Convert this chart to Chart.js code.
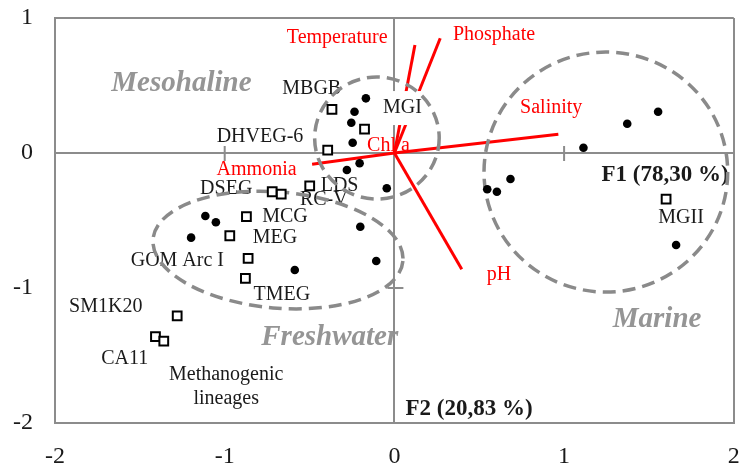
<!DOCTYPE html>
<html>
<head>
<meta charset="utf-8">
<script src="https://cdn.jsdelivr.net/npm/chart.js@4.4.1/dist/chart.umd.min.js"></script>
<style>
  html, body { margin: 0; padding: 0; background: #fff; }
  #wrap { width: 742px; height: 472px; }
</style>
</head>
<body>
<div id="wrap"><canvas id="biplot"></canvas></div>
<script>
// sitios (circulos negros)
const siteX = [-0.168, -0.235, -0.254, -0.246, -0.205, -0.280, -0.045, -0.201, -0.107,
               -1.114, -1.052, -1.198, -0.587, 1.554, 1.372, 1.114, 0.684, 0.547, 0.604, 1.660];
const siteY = [0.405, 0.306, 0.224, 0.076, -0.076, -0.126, -0.261, -0.546, -0.800,
               -0.467, -0.513, -0.627, -0.867, 0.306, 0.217, 0.039, -0.193, -0.269, -0.287, -0.681];

// linajes (cuadrados abiertos)
const lineageX = [-0.368, -0.176, -0.393, -0.499, -0.720, -0.667, -0.872, -0.970, -0.862,
                  -0.878, -1.280, -1.408, -1.359, 1.601];
const lineageY = [0.324, 0.176, 0.022, -0.244, -0.287, -0.304, -0.472, -0.613, -0.780,
                  -0.928, -1.207, -1.361, -1.393, -0.341];

// variables ambientales (vectores rojos)
const varNames = ['Salinity', 'Ammonia', 'Temperature', 'Phosphate', 'pH'];
const varX = [0.966, -0.485, 0.121, 0.270, 0.397];
const varY = [0.139, -0.084, 0.800, 0.850, -0.861];

// ejes
const xTicks = [-2, -1, 0, 1, 2];
const yTicks = [-2, -1, 0, 1];

// grupos (elipses punteadas): centro, radios, giro en grados
const groups = [
  { name: 'Mesohaline', cx: -0.103, cy: 0.111, rx: 0.367, ry: 0.452, rot: 0 },
  { name: 'Freshwater', cx: -0.686, cy: -0.719, rx: 0.739, ry: 0.430, rot: 5 },
  { name: 'Marine', cx: 1.246, cy: -0.141, rx: 0.718, ry: 0.889, rot: 0 }
];

const serif = '"Liberation Serif", "Times New Roman", serif';
const fLabel = '20px ' + serif;
const fGroup = 'italic bold 29px ' + serif;
const fAxis = 'bold 23px ' + serif;
const black = '#1a1a1a', red = '#ff0000', gray = '#959595';

// textos del grafico
const notes = [
  { text: 'Temperature', x: -0.337, y: 0.852, font: fLabel, color: red },
  { text: 'Phosphate', x: 0.587, y: 0.874, font: fLabel, color: red },
  { text: 'Salinity', x: 0.924, y: 0.333, font: fLabel, color: red },
  { text: 'Chl a', x: -0.035, y: 0.052, font: fLabel, color: red },
  { text: 'Ammonia', x: -0.812, y: -0.126, font: fLabel, color: red },
  { text: 'pH', x: 0.616, y: -0.904, font: fLabel, color: red },
  { text: 'MBGB', x: -0.487, y: 0.474, font: fLabel, color: black },
  { text: 'MGI', x: 0.047, y: 0.333, font: fLabel, color: black, bg: true },
  { text: 'DHVEG-6', x: -0.792, y: 0.119, font: fLabel, color: black },
  { text: 'DSEG', x: -0.991, y: -0.267, font: fLabel, color: black },
  { text: 'LDS', x: -0.323, y: -0.244, font: fLabel, color: black },
  { text: 'RC-V', x: -0.416, y: -0.348, font: fLabel, color: black },
  { text: 'MCG', x: -0.645, y: -0.474, font: fLabel, color: black },
  { text: 'MEG', x: -0.704, y: -0.630, font: fLabel, color: black },
  { text: 'GOM Arc I', x: -1.279, y: -0.800, font: fLabel, color: black },
  { text: 'TMEG', x: -0.663, y: -1.052, font: fLabel, color: black },
  { text: 'SM1K20', x: -1.701, y: -1.141, font: fLabel, color: black },
  { text: 'CA11', x: -1.589, y: -1.526, font: fLabel, color: black },
  { text: 'Methanogenic', x: -0.991, y: -1.644, font: fLabel, color: black },
  { text: 'lineages', x: -0.991, y: -1.822, font: fLabel, color: black },
  { text: 'MGII', x: 1.689, y: -0.481, font: fLabel, color: black },
  { text: 'F1 (78,30 %)', x: 1.595, y: -0.163, font: fAxis, color: black },
  { text: 'F2 (20,83 %)', x: 0.440, y: -1.896, font: fAxis, color: black },
  { text: 'Mesohaline', x: -1.255, y: 0.511, font: fGroup, color: gray },
  { text: 'Freshwater', x: -0.381, y: -1.370, font: fGroup, color: gray },
  { text: 'Marine', x: 1.548, y: -1.230, font: fGroup, color: gray }
];

const frameGray = '#8c8c8c';

const biplotExtras = {
  id: 'biplotExtras',
  beforeDatasetsDraw(chart) {
    // marcas pequenas sobre los ejes centrales
    const { ctx, scales: { x, y } } = chart;
    const x0 = x.getPixelForValue(0), y0 = y.getPixelForValue(0);
    ctx.save();
    ctx.strokeStyle = frameGray;
    ctx.lineWidth = 2;
    ctx.beginPath();
    [-1, 1].forEach(v => {
      const px = x.getPixelForValue(v);
      ctx.moveTo(px, y0 - 7); ctx.lineTo(px, y0 + 8);
    });
    const py = y.getPixelForValue(-1);
    ctx.moveTo(x0 - 7, py); ctx.lineTo(x0 + 9, py);
    ctx.stroke();
    ctx.restore();
  },
  beforeDatasetDraw(chart, args) {
    if (chart.data.datasets[args.index].label !== 'Sites') return;
    const { ctx, scales: { x, y } } = chart;
    ctx.save();
    ctx.textAlign = 'center';
    ctx.textBaseline = 'middle';
    notes.forEach(n => {
      const px = x.getPixelForValue(n.x), py = y.getPixelForValue(n.y);
      ctx.font = n.font;
      if (n.bg) {
        const w = ctx.measureText(n.text).width;
        ctx.fillStyle = '#fff';
        ctx.fillRect(px - w / 2 - 5, py - 17, w + 10, 34);
      }
      ctx.fillStyle = n.color;
      ctx.fillText(n.text, px, py);
    });
    // elipses
    ctx.strokeStyle = '#8a8a8a';
    ctx.lineWidth = 3.5;
    ctx.setLineDash([13, 7]);
    groups.forEach(g => {
      const cx = x.getPixelForValue(g.cx), cy = y.getPixelForValue(g.cy);
      const rx = Math.abs(x.getPixelForValue(g.cx + g.rx) - cx);
      const ry = Math.abs(y.getPixelForValue(g.cy + g.ry) - cy);
      ctx.beginPath();
      ctx.ellipse(cx, cy, rx, ry, g.rot * Math.PI / 180, 0, Math.PI * 2);
      ctx.stroke();
    });
    ctx.restore();
  }
};

const vectorSets = varNames.map((name, i) => ({
  label: name,
  data: [{ x: 0, y: 0 }, { x: varX[i], y: varY[i] }],
  showLine: true,
  borderColor: red,
  borderWidth: 3,
  pointRadius: 0,
  order: 10
}));

const gridColor = c => (c.tick && (c.tick.value === 0 || c.tick.value === c.scale.min || c.tick.value === c.scale.max))
  ? frameGray : 'rgba(0,0,0,0)';

new Chart(document.getElementById('biplot'), {
  type: 'scatter',
  data: {
    datasets: [
      ...vectorSets,
      {
        label: 'Sites',
        data: siteX.map((v, i) => ({ x: v, y: siteY[i] })),
        pointStyle: 'circle',
        pointRadius: 4.3,
        backgroundColor: '#000',
        borderColor: '#000',
        borderWidth: 0,
        order: 2
      },
      {
        label: 'Lineages',
        data: lineageX.map((v, i) => ({ x: v, y: lineageY[i] })),
        pointStyle: 'rect',
        pointRadius: 6.2,
        backgroundColor: '#fff',
        borderColor: '#000',
        borderWidth: 2,
        order: 1
      }
    ]
  },
  options: {
    responsive: true,
    maintainAspectRatio: false,
    animation: false,
    layout: { padding: { top: 18, right: 5, left: 0, bottom: 0 } },
    plugins: { legend: { display: false }, tooltip: { enabled: false } },
    scales: {
      x: {
        type: 'linear', min: -2, max: 2,
        afterBuildTicks: s => { s.ticks = xTicks.map(v => ({ value: v })); },
        afterFit: s => { s.height = 49; s.paddingRight = 0; s.paddingLeft = 0; },
        grid: { color: gridColor, lineWidth: 2, drawTicks: false },
        border: { display: true, color: frameGray, width: 2 },
        ticks: { padding: 19, color: black, font: { family: serif, size: 24 }, maxRotation: 0, autoSkip: false }
      },
      y: {
        type: 'linear', min: -2, max: 1,
        afterBuildTicks: s => { s.ticks = yTicks.map(v => ({ value: v })); },
        afterFit: s => { s.width = 55; s.paddingTop = 0; s.paddingBottom = 0; },
        grid: { color: gridColor, lineWidth: 2, drawTicks: false },
        border: { display: true, color: frameGray, width: 2 },
        ticks: { padding: 22, color: black, font: { family: serif, size: 24 }, autoSkip: false }
      }
    }
  },
  plugins: [biplotExtras]
});
</script>
</body>
</html>
